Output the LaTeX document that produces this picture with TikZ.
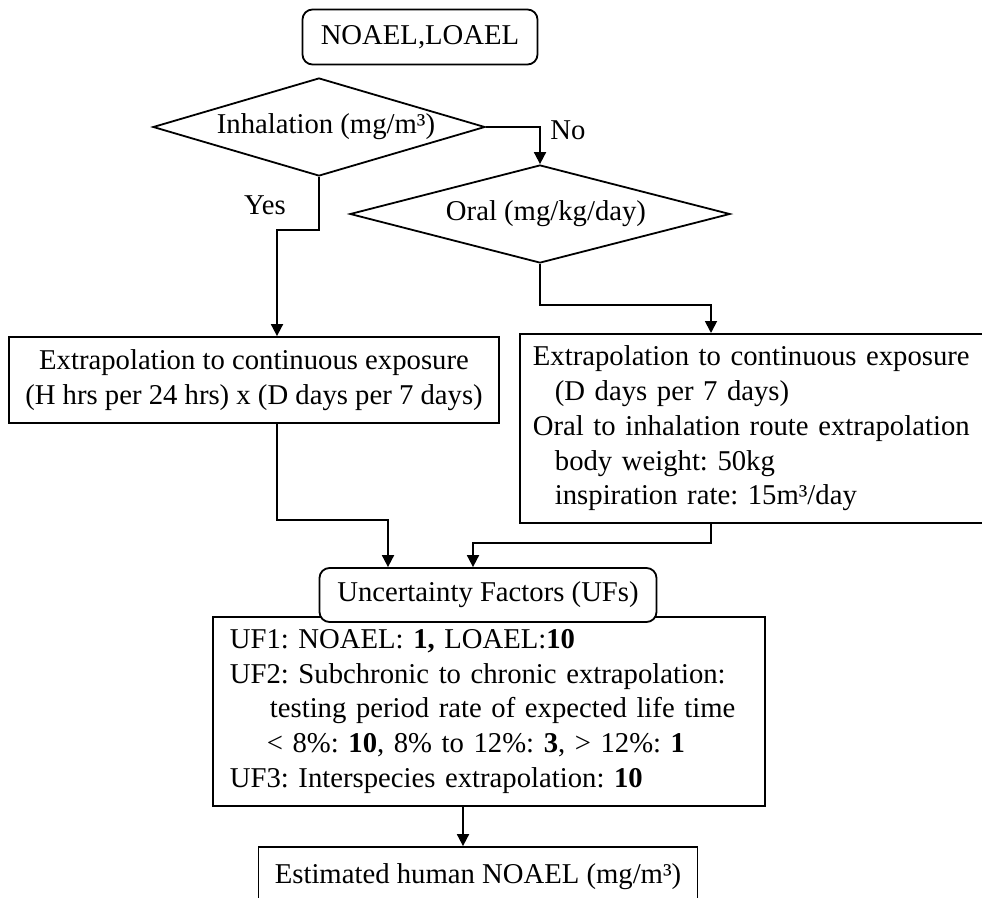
\documentclass[tikz,border=0pt]{standalone}
\usepackage{fontspec}
\setmainfont{Liberation Serif}
\usetikzlibrary{arrows.meta,shapes.geometric}
\frenchspacing

\tikzset{
  base/.style={draw=black, line width=1.8pt, inner sep=0pt,
    font=\fontsize{28.7}{34.8}\selectfont},
  rbox/.style={base, rounded corners=10pt, fill=white},
  sbox/.style={base, rectangle},
  choice/.style={base, diamond, aspect=3.39},
  lbl/.style={font=\fontsize{28.7}{34.8}\selectfont, inner sep=0pt},
  arr/.style={line width=1.8pt, -{Triangle[length=12pt,width=12pt]}},
}

\begin{document}
\begin{tikzpicture}[x=1pt, y=-1pt]
  \useasboundingbox (0,0) rectangle (982,897);
  \clip (0,0) rectangle (982,897);

  % start
  \node[rbox, minimum width=235pt, minimum height=55pt] (src) at (420,37) {NOAEL,LOAEL};

  % decisions
  \node[choice, minimum width=332pt, minimum height=98pt] (inh) at (319,127) {\hspace*{14pt}Inhalation (mg/m³)};
  \node[choice, minimum width=380pt, minimum height=98pt] (oral) at (540,214) {\hspace*{12pt}Oral (mg/kg/day)};

  \node[lbl] (no) at (568,130) {No};
  \node[lbl] (yes) at (265,205) {Yes};

  % extrapolation boxes
  \node[sbox, minimum width=490pt, minimum height=86pt, align=center] (lb) at (254,380)
    {Extrapolation to continuous exposure\\(H hrs per 24 hrs) x (D days per 7 days)};

  \node[sbox, anchor=north west, minimum width=490pt, minimum height=189pt,
        text width=464pt, inner xsep=13pt, align=left] (rb) at (519,333)
    {Extrapolation to continuous exposure\\
     \hspace*{22pt}(D days per 7 days)\\
     Oral to inhalation route extrapolation\\
     \hspace*{22pt}body weight: 50kg\\
     \hspace*{22pt}inspiration rate: 15m³/day};

  % uncertainty factors
  \node[sbox, anchor=north west, minimum width=536pt, minimum height=189pt,
        text width=518pt, inner xsep=17pt, align=left] (ufd) at (212,616)
    {UF1: NOAEL: \textbf{1,} LOAEL:\textbf{10}\\
     UF2: Subchronic to chronic extrapolation:\\
     \hspace*{40pt}testing period rate of expected life time\\
     \hspace*{37pt}< 8\%: \textbf{10}, 8\% to 12\%: \textbf{3}, > 12\%: \textbf{1}\\
     UF3: Interspecies extrapolation: \textbf{10}};
  \node[rbox, minimum width=337pt, minimum height=54pt] (uf) at (488,595) {Uncertainty Factors (UFs)};

  % result
  \node[sbox, minimum width=439pt, minimum height=60pt] (est) at (478,877) {Estimated human NOAEL (mg/m³)};

  % bend points
  \coordinate (yesbend) at (277,230);
  \coordinate (oralbend) at (711,305);
  \coordinate (lbend) at (388,520);
  \coordinate (rbend) at (473,543);
  \coordinate (downx) at (463,0);

  % connectors
  \draw[arr] (inh.east) -| (oral.north);
  \draw[arr] (inh.south) |- (yesbend) -- (yesbend |- lb.north);
  \draw[arr] (oral.south) |- (oralbend) -- (oralbend |- rb.north);
  \draw[arr] (lb.south -| yesbend) |- (lbend) -- (lbend |- uf.north);
  \draw[arr] (rb.south -| oralbend) |- (rbend) -- (rbend |- uf.north);
  \draw[arr] (ufd.south -| downx) -- (est.north -| downx);
\end{tikzpicture}
\end{document}
